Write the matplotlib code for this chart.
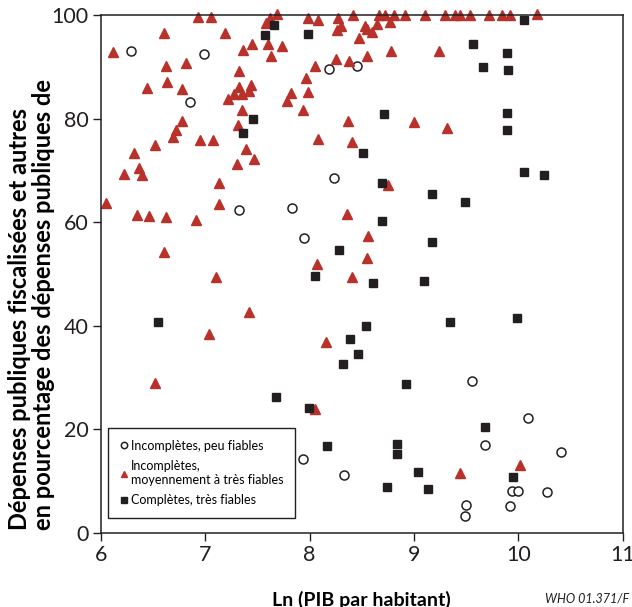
import matplotlib
matplotlib.use("Agg")
import matplotlib.pyplot as plt

plt.rcParams['font.family'] = ['Lato', 'DejaVu Sans']

# Incomplètes, peu fiables
peu_x = [6.29, 6.99, 8.19, 8.45, 6.85, 8.23, 7.32, 7.83, 7.95, 7.94, 8.33,
         9.56, 10.09, 9.68, 10.41, 9.94, 10.00, 10.28, 9.50, 9.92, 9.49]
peu_y = [93.0, 92.5, 89.7, 90.2, 83.2, 68.5, 62.3, 62.7, 57.0, 14.3, 11.2,
         29.3, 22.2, 17.0, 15.7, 8.1, 8.1, 7.9, 5.4, 5.2, 3.2]

# Incomplètes, moyennement à très fiables
moy_x = [6.93, 7.05, 7.69, 7.62, 7.58, 7.98, 8.08, 8.27, 8.30, 8.26, 8.42, 8.53,
         8.55, 6.60, 7.19, 6.11, 7.36, 7.45, 7.60, 7.73, 7.63, 8.47, 8.55, 6.62,
         6.81, 7.32, 8.25, 8.38, 8.05, 7.96, 6.44, 6.63, 6.78, 7.32, 7.44, 7.27,
         7.35, 7.42, 7.22, 7.82, 7.98, 7.78, 7.35, 7.94, 6.78, 6.72, 6.69, 6.52,
         6.95, 7.07, 7.31, 8.08, 8.37, 8.41, 6.32, 7.39, 7.47, 7.30, 6.22, 6.36,
         6.39,
         8.66, 8.72, 8.81, 8.91, 9.11, 9.30, 9.39, 9.44, 9.54, 9.72, 9.84, 9.92,
         10.18, 8.65, 8.77, 8.60, 8.78, 9.24, 9.00, 9.32,
         7.13, 6.05, 7.13, 6.34, 6.46, 6.62, 6.91, 8.36, 8.56, 6.60, 8.55, 8.07,
         7.10, 8.41, 7.42, 7.03, 8.16, 8.75,
         6.52, 8.05, 9.44, 10.02]
moy_y = [99.7, 99.7, 100.2, 99.4, 98.5, 99.4, 99.1, 99.4, 98.0, 97.2, 100.0, 98.0,
         97.4, 96.5, 96.6, 92.8, 93.3, 94.4, 94.5, 94.1, 92.2, 95.5, 92.1, 90.2,
         90.7, 89.2, 91.5, 91.2, 90.1, 87.8, 85.9, 87.1, 85.8, 86.2, 86.5, 84.8,
         84.8, 85.4, 83.8, 84.9, 85.2, 83.4, 81.7, 81.6, 79.5, 77.9, 76.4, 75.0,
         75.8, 75.8, 78.8, 76.0, 79.5, 75.6, 73.4, 74.1, 72.3, 71.3, 69.3, 70.5,
         69.2,
         100.0, 100.0, 100.0, 100.0, 100.0, 100.0, 100.0, 100.0, 100.0, 100.0,
         100.0, 100.0, 100.2, 98.3, 98.6, 96.8, 93.0, 93.0, 79.3, 78.3,
         67.5, 63.7, 63.5, 61.5, 61.2, 61.0, 60.5, 61.6, 57.3, 54.2, 53.1, 52.0,
         49.5, 49.4, 42.6, 38.5, 36.9, 67.2,
         29.0, 23.9, 11.5, 13.1]

# Complètes, très fiables
comp_x = [7.66, 7.57, 7.98, 7.46, 7.36, 8.51, 10.06, 9.57, 9.89, 9.66, 9.90,
          8.71, 9.89, 9.89, 10.06, 10.25, 8.28, 8.05, 6.55, 8.54, 8.39, 8.69,
          9.17, 9.49, 8.69, 9.17, 8.61, 9.10, 9.35, 9.99, 8.46, 8.32, 7.68,
          7.99, 8.17, 8.92, 9.68, 8.84, 8.84, 9.04, 8.74, 9.13, 9.95]
comp_y = [98.1, 96.2, 96.4, 80.0, 77.2, 73.3, 99.1, 94.5, 92.7, 89.9, 89.4,
          80.9, 81.2, 77.8, 69.7, 69.1, 54.6, 49.7, 40.7, 39.9, 37.4, 67.5,
          65.4, 63.9, 60.3, 56.1, 48.2, 48.7, 40.7, 41.6, 34.6, 32.6, 26.2,
          24.2, 16.7, 28.8, 20.5, 17.1, 15.3, 11.7, 8.8, 8.5, 10.8]

xticks = [6, 7, 8, 9, 10, 11]
yticks = [0, 20, 40, 60, 80, 100]

fig = plt.figure(figsize=(6.32, 6.07), dpi=100)
ax = fig.add_axes([0.160, 0.122, 0.825, 0.853])

ax.plot(peu_x, peu_y, 'o', ms=6.5, mfc='white', mec='#231f20', mew=1.1,
        clip_on=False, label='Incomplètes, peu fiables')
ax.plot(moy_x, moy_y, '^', ms=6.5, color='#b8312a', mec='#b8312a',
        clip_on=False, label='Incomplètes,\nmoyennement à très fiables')
ax.plot(comp_x, comp_y, 's', ms=5.8, color='#231f20',
        clip_on=False, label='Complètes, très fiables')

ax.set_xlim(6, 11)
ax.set_ylim(0, 100)
ax.set_xticks(xticks)
ax.set_yticks(yticks)
ax.tick_params(direction='out', length=6, width=1, labelsize=15.5, colors='#231f20', pad=3)
for s in ax.spines.values():
    s.set_linewidth(1.1)
    s.set_color('#231f20')

ax.set_xlabel('Ln (PIB par habitant)', fontsize=14, fontweight='bold', labelpad=18)
fig.text(0.012, 0.127, 'Dépenses publiques fiscalisées et autres\n'
         'en pourcentage des dépenses publiques de',
         rotation=90, fontsize=17, fontweight='bold', ha='left', va='bottom',
         multialignment='left', linespacing=1.05)
fig.text(0.995, 0.004, 'WHO 01.371/F', fontsize=9, style='italic',
         ha='right', va='bottom', color='#231f20')

leg = ax.legend(loc='lower left', bbox_to_anchor=(0.013, 0.029), borderaxespad=0,
                fontsize=9, frameon=True, fancybox=False, edgecolor='#231f20',
                framealpha=1, markerscale=0.7, handlelength=0.6, handletextpad=0.3,
                borderpad=0.95, labelspacing=0.65)
leg.get_frame().set_linewidth(1.0)

plt.savefig('out.png', dpi=100)
